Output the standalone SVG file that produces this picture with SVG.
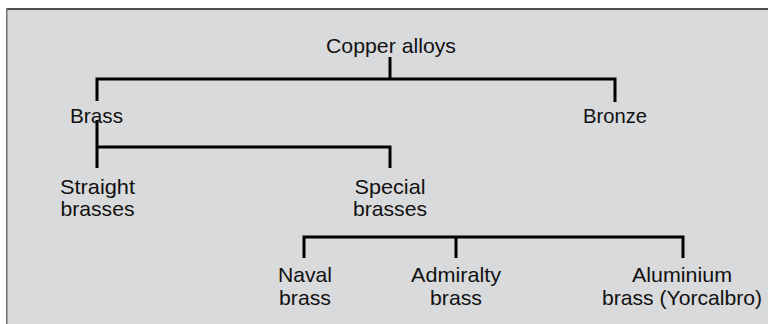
<svg xmlns="http://www.w3.org/2000/svg" width="768" height="324" viewBox="0 0 768 324">
<style>
.lbl{font-family:"Liberation Sans",Arial,sans-serif;font-size:21px;fill:#111;text-anchor:middle}
.ln{stroke:#000;stroke-width:3;fill:none;stroke-linecap:butt;stroke-linejoin:miter}
</style>
<rect x="0" y="0" width="768" height="324" fill="#fff"/>
<rect x="6" y="9" width="762" height="315" fill="#d9dadc"/>
<line x1="6.5" y1="9" x2="768" y2="9" stroke="#1a1a1a" stroke-width="1.5"/>
<line x1="6.75" y1="9" x2="6.75" y2="324" stroke="#707070" stroke-width="1.5"/>
<g id="connectors">
<path class="ln" d="M390 57V79M97 101V79H615V102"/>
<path class="ln" d="M97 120V168M97 147H390V168"/>
<path class="ln" d="M304 258V237H683V258M456 237V258"/>
</g>
<g id="copper"><text class="lbl" x="391" y="53" textLength="130" lengthAdjust="spacingAndGlyphs">Copper alloys</text></g>
<g id="brass"><text class="lbl" x="96.5" y="123" textLength="53" lengthAdjust="spacingAndGlyphs">Brass</text></g>
<g id="bronze"><text class="lbl" x="615" y="123" textLength="64" lengthAdjust="spacingAndGlyphs">Bronze</text></g>
<g id="straight"><text class="lbl" x="97.5" y="194" textLength="75" lengthAdjust="spacingAndGlyphs">Straight</text><text class="lbl" x="97.5" y="216" textLength="74" lengthAdjust="spacingAndGlyphs">brasses</text></g>
<g id="special"><text class="lbl" x="390" y="194" textLength="71" lengthAdjust="spacingAndGlyphs">Special</text><text class="lbl" x="390" y="216" textLength="74" lengthAdjust="spacingAndGlyphs">brasses</text></g>
<g id="naval"><text class="lbl" x="305" y="282" textLength="54" lengthAdjust="spacingAndGlyphs">Naval</text><text class="lbl" x="305" y="305" textLength="52" lengthAdjust="spacingAndGlyphs">brass</text></g>
<g id="admiralty"><text class="lbl" x="456" y="282" textLength="90" lengthAdjust="spacingAndGlyphs">Admiralty</text><text class="lbl" x="456" y="305" textLength="52" lengthAdjust="spacingAndGlyphs">brass</text></g>
<g id="aluminium"><text class="lbl" x="682" y="282" textLength="100" lengthAdjust="spacingAndGlyphs">Aluminium</text><text class="lbl" x="682" y="305" textLength="160" lengthAdjust="spacingAndGlyphs">brass (Yorcalbro)</text></g>
</svg>
